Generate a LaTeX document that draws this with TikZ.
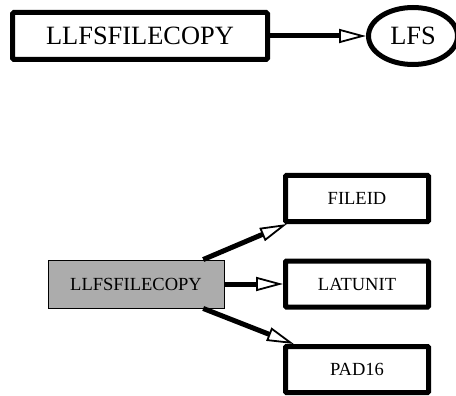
\documentclass[tikz,border=0pt]{standalone}
\usepackage{fontspec}
\setmainfont{Liberation Serif}
\usetikzlibrary{arrows.meta,shapes.geometric}
\tikzset{
  bigbox/.style={draw, line width=5pt, rounded corners=1.5pt, minimum width=255pt, minimum height=47pt, inner sep=0pt, font=\fontsize{26.4}{30}\selectfont},
  ovalnode/.style={draw, ellipse, line width=5pt, minimum width=89pt, minimum height=57pt, inner sep=0pt, font=\fontsize{26.4}{30}\selectfont},
  rootbox/.style={draw, fill=gray!65, line width=0.9pt, minimum width=176pt, minimum height=48pt, inner sep=0pt, font=\fontsize{18.5}{22}\selectfont},
  fieldbox/.style={draw, line width=5pt, rounded corners=1pt, minimum width=143pt, minimum height=46pt, inner sep=0pt, font=\fontsize{18.5}{22}\selectfont},
  link/.style={line width=5pt, -{Triangle[open, length=27pt, width=14pt, line width=1.8pt]}}
}
\begin{document}
\begin{tikzpicture}[x=1pt, y=-1pt]
        \useasboundingbox (0, 0) rectangle (456, 396);
        % top row
        \node[bigbox] (llfs) at (140, 36) {LLFSFILECOPY};
        \node[ovalnode] (lfs) at (413, 36) {LFS};
        \draw[link] (llfs) -- (lfs);
        % bottom: record and its fields
        \node[rootbox] (root) at (136, 284) {LLFSFILECOPY};
        \node[fieldbox] (fileid) at (357, 198.5) {FILEID};
        \node[fieldbox] (latunit) at (357, 284) {LATUNIT};
        \node[fieldbox] (pad) at (357, 369.5) {PAD16};
        \draw[link] (root.20.8) -- (fileid.200.8);
        \draw[link] (root) -- (latunit);
        \draw[link] (root.-20.8) -- (pad.158.4);
\end{tikzpicture}
\end{document}
